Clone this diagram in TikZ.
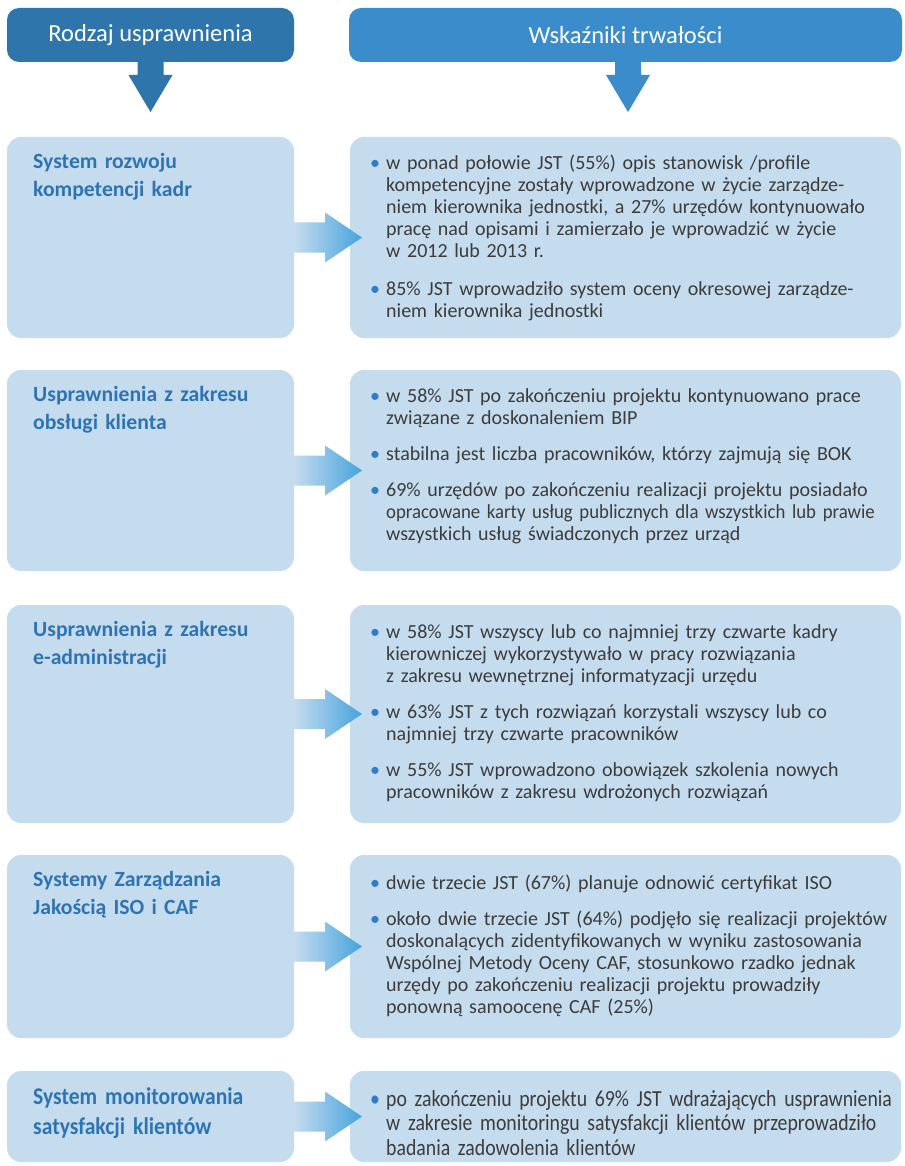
\documentclass[tikz,border=0pt]{standalone}
\usepackage{fontspec}
\setmainfont{Carlito}
\newfontfamily\condfont[FakeStretch=0.86]{Carlito}
\newfontfamily\condtfont[FakeStretch=0.9]{Carlito}
\usetikzlibrary{calc}
\definecolor{hdrL}{HTML}{2E75AB}
\definecolor{hdrR}{HTML}{3A8DCA}
\definecolor{boxc}{HTML}{C5DCEF}
\definecolor{titlec}{HTML}{2F74B2}
\definecolor{textc}{HTML}{3C3C3C}
\definecolor{bulc}{HTML}{2E7DC6}
\definecolor{arrc}{HTML}{45A3DC}
\newcommand\bitem[1]{\par\noindent\hangindent16pt\hangafter1\color{textc}\rule{0pt}{0.85em}\makebox[16pt][l]{\textcolor{bulc}{\textbullet}}#1\par}
\newcommand\bsep{\vspace{14pt}}
\tikzset{
  hdr/.style={rounded corners=12pt, inner sep=0pt, outer sep=0pt, text=white, minimum height=54pt, anchor=north west, font=\fontsize{24.5}{28}\selectfont},
  box/.style={fill=boxc, rounded corners=14pt, inner sep=0pt, outer sep=0pt, anchor=north west},
  lbox/.style={box, minimum width=287pt},
  rbox/.style={box, minimum width=551pt},
  ttl/.style={anchor=base west, inner sep=0pt, text width=260pt, align=left, text=titlec, font=\bfseries\fontsize{21.7}{28}\selectfont},
  body/.style={anchor=north west, inner sep=0pt, text width=528pt, font=\fontsize{20}{22}\selectfont},
  harr/.style={left color=boxc, right color=arrc},
}
\newcommand\harrow[2]{\shade[harr] ([shift={(0,-15)}]#1.east) -- ([shift={(31,-15)}]#1.east) -- ([shift={(31,-25)}]#1.east) -- ([shift={(12,0)}]#2.west) -- ([shift={(31,25)}]#1.east) -- ([shift={(31,15)}]#1.east) -- ([shift={(0,15)}]#1.east) -- cycle;}
\begin{document}
\begin{tikzpicture}[x=1pt,y=-1pt]
\useasboundingbox[fill=white] (0,0) rectangle (904,1166);
% headers
\node[hdr, fill=hdrL, minimum width=287pt] (hL) at (7,8) {Rodzaj usprawnienia};
\node[hdr, fill=hdrR, minimum width=553pt] (hR) at (349,8) {Wskaźniki trwałości};
\coordinate (tL) at ([shift={(0,50)}]hL.south);
\coordinate (tR) at ([shift={(2.5,50)}]hR.south);
\fill[hdrL] ([shift={(-13,-1)}]hL.south) -- ([shift={(-13,13)}]hL.south) -- ([shift={(-22,13)}]hL.south) -- (tL) -- ([shift={(22,13)}]hL.south) -- ([shift={(13,13)}]hL.south) -- ([shift={(13,-1)}]hL.south) -- cycle;
\fill[hdrR] ([shift={(-10.5,-1)}]hR.south) -- ([shift={(-10.5,13)}]hR.south) -- ([shift={(-19.5,13)}]hR.south) -- (tR) -- ([shift={(24.5,13)}]hR.south) -- ([shift={(15.5,13)}]hR.south) -- ([shift={(15.5,-1)}]hR.south) -- cycle;
% boxes
\node[lbox, minimum height=201pt] (l1) at (7,137) {};
\node[rbox, minimum height=201pt] (r1) at (350,137) {};
\node[lbox, minimum height=201pt] (l2) at (7,370) {};
\node[rbox, minimum height=201pt] (r2) at (350,370) {};
\node[lbox, minimum height=218pt] (l3) at (7,605) {};
\node[rbox, minimum height=218pt] (r3) at (350,605) {};
\node[lbox, minimum height=183pt] (l4) at (7,855) {};
\node[rbox, minimum height=183pt] (r4) at (350,855) {};
\node[lbox, minimum height=91pt] (l5) at (7,1071) {};
\node[rbox, minimum height=91pt] (r5) at (350,1071) {};
% arrows
\harrow{l1}{r1}
\harrow{l2}{r2}
\harrow{l3}{r3}
\harrow{l4}{r4}
\harrow{l5}{r5}
% titles
\node[ttl] (t1) at (33,169) {System rozwoju\\kompetencji kadr};
\node[ttl] (t2) at (33,401) {Usprawnienia z zakresu\\obsługi klienta};
\node[ttl] (t3) at (33,636) {Usprawnienia z zakresu\\e-administracji};
\node[ttl] (t4) at (33,886) {Systemy Zarządzania\\Jakością ISO i CAF};
\node[ttl, font=\condtfont\bfseries\fontsize{24}{30}\selectfont] (t5) at (33,1104) {System monitorowania\\satysfakcji klientów};
% body texts (top = first baseline - 17)
\node[body] (b1) at (370,147) {%
\bitem{w ponad połowie JST (55\%) opis stanowisk /profile\newline kompetencyjne zostały wprowadzone w życie zarządze-\newline niem kierownika jednostki, a 27\% urzędów kontynuowało\newline pracę nad opisami i zamierzało je wprowadzić w życie\newline w 2012 lub 2013 r.}\vspace{16pt}
\bitem{85\% JST wprowadziło system oceny okresowej zarządze-\newline niem kierownika jednostki}};
\node[body] (b2) at (370,380) {%
\bitem{w 58\% JST po zakończeniu projektu kontynuowano prace\newline związane z doskonaleniem BIP}\bsep
\bitem{stabilna jest liczba pracowników, którzy zajmują się BOK}\bsep
\bitem{69\% urzędów po zakończeniu realizacji projektu posiadało\newline {\addfontfeature{FakeStretch=0.94}opracowane karty usług publicznych dla wszystkich lub prawie}\newline wszystkich usług świadczonych przez urząd}};
\node[body] (b3) at (370,616) {%
\bitem{w 58\% JST wszyscy lub co najmniej trzy czwarte kadry\newline kierowniczej wykorzystywało w pracy rozwiązania\newline z zakresu wewnętrznej informatyzacji urzędu}\bsep
\bitem{w 63\% JST z tych rozwiązań korzystali wszyscy lub co\newline najmniej trzy czwarte pracowników}\bsep
\bitem{w 55\% JST wprowadzono obowiązek szkolenia nowych\newline pracowników z zakresu wdrożonych rozwiązań}};
\node[body] (b4) at (370,867) {%
\bitem{dwie trzecie JST (67\%) planuje odnowić certyfikat ISO}\bsep
\bitem{około dwie trzecie JST (64\%) podjęło się realizacji projektów\newline doskonalących zidentyfikowanych w wyniku zastosowania\newline Wspólnej Metody Oceny CAF, stosunkowo rzadko jednak\newline urzędy po zakończeniu realizacji projektu prowadziły\newline ponowną samoocenę CAF (25\%)}};
\node[body, font=\condfont\fontsize{23}{24.5}\selectfont] (b5) at (370,1081.5) {%
\bitem{po zakończeniu projektu 69\% JST wdrażających usprawnienia\newline w zakresie monitoringu satysfakcji klientów przeprowadziło\newline badania zadowolenia klientów}};
\end{tikzpicture}
\end{document}
